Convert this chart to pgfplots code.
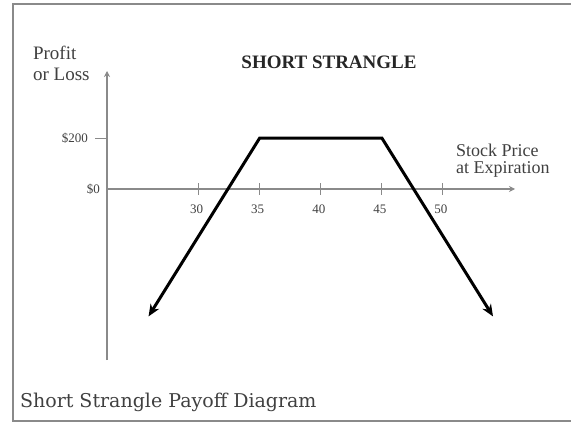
\documentclass[border=0pt]{standalone}
\usepackage{fontspec}
\setmainfont{Liberation Serif}
\newfontfamily\capfont{DejaVu Serif}
\usepackage{pgfplots}
\pgfplotsset{compat=1.18}
\usetikzlibrary{arrows.meta}
\definecolor{axisgray}{HTML}{8A8A8A}
\definecolor{textgray}{HTML}{404040}
\begin{document}
\begin{tikzpicture}
% page area: 571 x 429 px at 0.5pt per px
\useasboundingbox (0,0) rectangle (285.5pt,214.5pt);
% outer frame
\draw[axisgray, line width=0.8pt] (285.5pt,212.5pt) -- (6.5pt,212.5pt) -- (6.5pt,4pt) -- (285.5pt,4pt);
\begin{axis}[
  at={(53.5pt,34.5pt)}, anchor=south west,
  scale only axis, width=204pt, height=144.5pt,
  xmin=22.5, xmax=55.9, ymin=-671, ymax=463,
  axis x line=middle, axis y line=left,
  axis line style={axisgray, line width=0.6pt, -{Stealth[length=3pt,width=3pt]}},
  xtick={30,35,40,45,50},
  xtick style={axisgray, line width=0.5pt},
  x tick label style={font=\fontsize{6.5}{7}\selectfont, text=textgray, yshift=-1.5pt, xshift=-1pt},
  ytick={200},
  yticklabels={\$200},
  ytick style={axisgray, line width=0.5pt},
  extra y ticks={0},
  extra y tick labels={\$0},
  extra y tick style={major tick length=0pt},
  y tick label style={font=\fontsize{6.5}{7}\selectfont, text=textgray},
  major tick length=6pt,
  xtick align=center,
  ytick align=outside,
  /pgf/number format/assume math mode=true,
  clip=false,
]
% short strangle payoff at expiration
\addplot[black, line width=1.5pt, line join=miter, {Stealth[length=6pt,width=5pt]}-{Stealth[length=6pt,width=5pt]}]
  coordinates {(25.9,-500) (35,200) (45,200) (54.1,-500)};
\end{axis}
\node[anchor=west, align=left, text=textgray, font=\fontsize{9.5}{10.5}\selectfont] at (13pt,183pt) {Profit\\or Loss};
\node[font=\bfseries\fontsize{9.5}{11}\selectfont, text=black!85] at (164.5pt,183.5pt) {SHORT STRANGLE};
\node[anchor=west, align=left, text=textgray, font=\fontsize{9}{8.5}\selectfont] at (224.5pt,134pt) {Stock Price\\at Expiration};
\node[anchor=west, text=textgray, font=\capfont\fontsize{9.5}{11}\selectfont] at (6.5pt,13.5pt) {Short Strangle Payoff Diagram};
\end{tikzpicture}
\end{document}
